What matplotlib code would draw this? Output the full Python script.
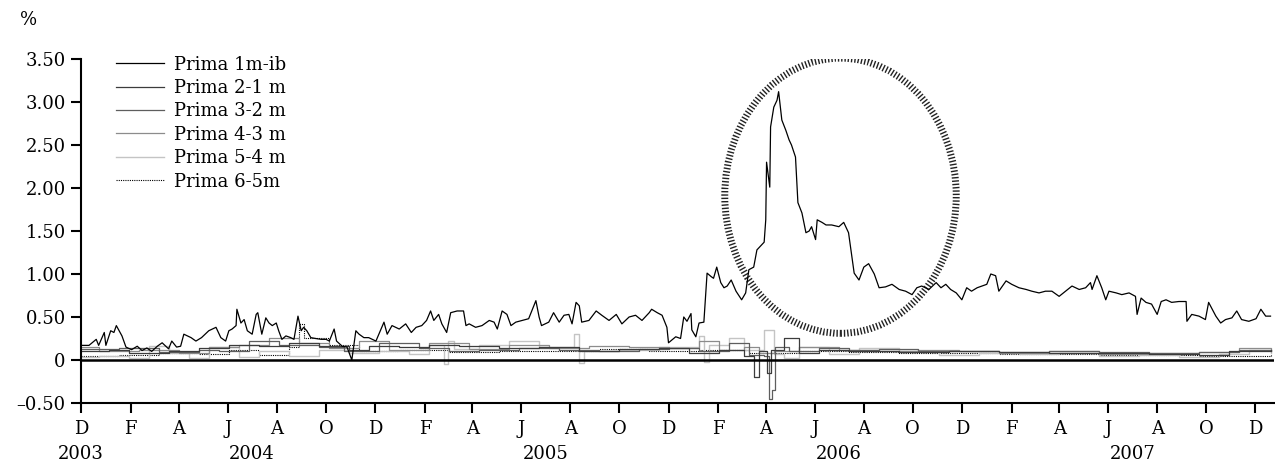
import matplotlib
matplotlib.use("Agg")
import matplotlib.pyplot as plt
import matplotlib.dates as mdates
from matplotlib.patches import Ellipse
from matplotlib.lines import Line2D
import pandas as pd

# days counted from 2003-12-01, values in %
start = pd.Timestamp("2003-12-01")

m1_days = [0, 10, 19, 22, 29, 31, 37, 41, 44, 51, 56, 63, 70, 76, 82, 88, 95, 101, 109, 113,
           119, 124, 128, 137, 143, 150, 159, 168, 174, 180, 184, 188, 193, 194, 199, 203, 207,
           213, 218, 220, 225, 230, 234, 238, 243, 246, 250, 255, 261, 265, 270, 274, 277, 281,
           286, 292, 299, 305, 309, 315, 318, 325, 331, 337, 342, 346, 352, 358, 367, 377, 381,
           387, 396, 404, 411, 417, 424, 430, 435, 439, 445, 449, 455, 460, 468, 476, 479, 483,
           491, 499, 508, 514, 518, 524, 530, 535, 541, 549, 557, 566, 570, 573, 582, 588, 595,
           601, 607, 611, 616, 620, 623, 632, 641, 648, 657, 666, 673, 682, 690, 698, 707, 710,
           717, 723, 729, 731, 740, 746, 750, 754, 759, 760, 765, 769, 775, 779, 784, 787, 791,
           796, 800, 804, 809, 815, 822, 827, 831, 837, 841, 850, 852, 853, 857, 858, 862, 866,
           868, 872, 877, 881, 884, 889, 892, 897, 902, 906, 909, 914, 916, 922, 927, 934, 943,
           949, 955, 962, 968, 974, 980, 987, 993, 1001, 1009, 1018, 1026, 1034, 1040, 1046,
           1055, 1064, 1070, 1076, 1082, 1089, 1096, 1102, 1108, 1115, 1121, 1127, 1132, 1138,
           1142, 1151, 1158, 1167, 1176, 1183, 1192, 1200, 1208, 1217, 1225, 1233, 1242, 1250,
           1256, 1258, 1264, 1270, 1275, 1279, 1288, 1295, 1304, 1312, 1314, 1319, 1325, 1332,
           1339, 1344, 1350, 1357, 1366, 1375, 1376, 1382, 1391, 1399, 1403, 1407, 1412, 1418,
           1424, 1432, 1438, 1444, 1453, 1462, 1468, 1474, 1480]
m1_vals = [0.17, 0.17, 0.24, 0.17, 0.32, 0.17, 0.34, 0.32, 0.40, 0.28, 0.15, 0.12, 0.16, 0.11,
           0.14, 0.10, 0.16, 0.20, 0.13, 0.22, 0.15, 0.16, 0.30, 0.26, 0.22, 0.26, 0.34, 0.38,
           0.26, 0.22, 0.34, 0.36, 0.40, 0.59, 0.43, 0.47, 0.34, 0.30, 0.53, 0.55, 0.30, 0.49,
           0.43, 0.40, 0.43, 0.34, 0.24, 0.28, 0.26, 0.24, 0.51, 0.34, 0.38, 0.34, 0.26, 0.25,
           0.24, 0.24, 0.22, 0.36, 0.22, 0.16, 0.15, 0.00, 0.34, 0.30, 0.26, 0.26, 0.22, 0.44,
           0.30, 0.40, 0.36, 0.42, 0.32, 0.38, 0.40, 0.46, 0.57, 0.46, 0.53, 0.42, 0.32, 0.55,
           0.57, 0.57, 0.40, 0.42, 0.38, 0.40, 0.46, 0.44, 0.36, 0.57, 0.53, 0.40, 0.44, 0.46,
           0.48, 0.69, 0.50, 0.40, 0.44, 0.55, 0.44, 0.52, 0.53, 0.42, 0.67, 0.63, 0.44, 0.46,
           0.57, 0.52, 0.46, 0.53, 0.42, 0.50, 0.52, 0.46, 0.55, 0.59, 0.55, 0.52, 0.38, 0.20,
           0.27, 0.25, 0.50, 0.45, 0.54, 0.35, 0.27, 0.43, 0.44, 1.01, 0.97, 0.95, 1.08, 0.90,
           0.84, 0.86, 0.93, 0.80, 0.70, 0.78, 1.05, 1.08, 1.28, 1.37, 1.63, 2.30, 2.01, 2.71,
           2.94, 3.02, 3.12, 2.79, 2.67, 2.56, 2.50, 2.36, 1.83, 1.71, 1.48, 1.50, 1.55, 1.40,
           1.63, 1.60, 1.57, 1.57, 1.55, 1.60, 1.48, 1.01, 0.93, 1.08, 1.12, 1.00, 0.84, 0.85,
           0.88, 0.82, 0.80, 0.76, 0.84, 0.86, 0.82, 0.90, 0.84, 0.88, 0.82, 0.78, 0.70, 0.84,
           0.80, 0.84, 0.86, 0.88, 1.00, 0.98, 0.80, 0.92, 0.88, 0.84, 0.82, 0.80, 0.78, 0.80,
           0.80, 0.74, 0.80, 0.86, 0.82, 0.84, 0.90, 0.82, 0.98, 0.84, 0.70, 0.80, 0.78, 0.76,
           0.78, 0.74, 0.53, 0.72, 0.67, 0.65, 0.53, 0.68, 0.70, 0.67, 0.68, 0.68, 0.45, 0.53,
           0.51, 0.47, 0.67, 0.60, 0.51, 0.43, 0.47, 0.49, 0.57, 0.47, 0.45, 0.48, 0.59, 0.51,
           0.51]

m2_days = [0, 35, 60, 109, 147, 184, 221, 259, 296, 333, 358, 396, 433, 470, 520, 570, 620,
           669, 719, 756, 794, 825, 837, 843, 853, 858, 875, 893, 918, 955, 1018, 1080, 1142,
           1204, 1266, 1329, 1391, 1428, 1480]
m2_vals = [0.10, 0.12, 0.08, 0.10, 0.14, 0.18, 0.16, 0.20, 0.16, 0.12, 0.16, 0.15, 0.17, 0.16,
           0.14, 0.15, 0.10, 0.13, 0.14, 0.08, 0.12, 0.05, -0.20, 0.10, -0.15, 0.12, 0.25, 0.08,
           0.12, 0.10, 0.09, 0.10, 0.09, 0.08, 0.08, 0.07, 0.06, 0.10, 0.12]

m3_days = [0, 47, 97, 147, 172, 209, 246, 296, 327, 371, 420, 458, 495, 545, 595, 644, 694,
           731, 769, 806, 831, 850, 856, 860, 863, 881, 918, 955, 993, 1042, 1092, 1142, 1204,
           1266, 1329, 1391, 1441, 1480]
m3_vals = [0.13, 0.14, 0.09, 0.12, 0.10, 0.22, 0.17, 0.15, 0.11, 0.20, 0.14, 0.10, 0.12, 0.14,
           0.12, 0.10, 0.13, 0.14, 0.10, 0.20, 0.06, 0.05, -0.45, -0.35, 0.15, 0.10, 0.14, 0.12,
           0.13, 0.11, 0.10, 0.09, 0.10, 0.09, 0.08, 0.09, 0.12, 0.11]

m4_days = [0, 22, 72, 122, 159, 197, 234, 271, 309, 346, 383, 433, 483, 532, 582, 632, 682,
           731, 769, 794, 825, 843, 862, 893, 943, 993, 1042, 1092, 1142, 1204, 1266, 1329,
           1391, 1441, 1480]
m4_vals = [0.15, 0.10, 0.12, 0.08, 0.15, 0.18, 0.25, 0.20, 0.14, 0.22, 0.12, 0.20, 0.13, 0.18,
           0.14, 0.16, 0.15, 0.14, 0.22, 0.12, 0.15, 0.08, 0.10, 0.15, 0.12, 0.10, 0.12, 0.11,
           0.08, 0.10, 0.07, 0.08, 0.09, 0.14, 0.10]

m5_days = [0, 22, 60, 85, 109, 134, 159, 197, 221, 259, 296, 333, 371, 408, 433, 452, 457,
           464, 495, 532, 570, 613, 620, 626, 669, 719, 769, 775, 781, 806, 825, 850, 858, 862,
           875, 893, 931, 968, 1018, 1067, 1117, 1167, 1217, 1266, 1316, 1366, 1416, 1453, 1480]
m5_vals = [0.03, 0.05, 0.02, 0.16, 0.08, 0.02, 0.15, 0.03, 0.10, 0.05, 0.12, 0.08, 0.10, 0.07,
           0.18, -0.05, 0.22, 0.13, 0.17, 0.22, 0.15, 0.30, -0.04, 0.10, 0.12, 0.15, 0.28, -0.02,
           0.18, 0.25, 0.12, 0.35, 0.35, 0.07, 0.02, 0.15, 0.07, 0.14, 0.10, 0.06, 0.08, 0.07,
           0.08, 0.05, 0.06, 0.04, 0.07, 0.12, 0.08]

m6_days = [0, 47, 97, 147, 184, 221, 259, 271, 277, 309, 346, 396, 458, 520, 582, 644, 707,
           769, 831, 893, 955, 1018, 1142, 1266, 1391, 1480]
m6_vals = [0.05, 0.06, 0.08, 0.07, 0.12, 0.06, 0.15, 0.42, 0.25, 0.17, 0.10, 0.12, 0.09, 0.11,
           0.10, 0.13, 0.10, 0.12, 0.08, 0.10, 0.09, 0.08, 0.07, 0.06, 0.05, 0.07]

labels = ["Prima 1m-ib", "Prima 2-1 m", "Prima 3-2 m", "Prima 4-3 m", "Prima 5-4 m", "Prima 6-5m"]
year_labels = ["2003", "2004", "2005", "2006", "2007"]
year_pos = ["2003-12-01", "2004-07-01", "2005-07-01", "2006-07-01", "2007-07-01"]


def to_dates(days):
    return start + pd.to_timedelta(days, unit="D")


plt.rcParams["font.family"] = "DejaVu Serif"
plt.rcParams["font.size"] = 13

fig = plt.figure(figsize=(12.75, 4.63), dpi=100)
ax = fig.add_axes([0.0635, 0.1296, 0.9355, 0.743])

series = [
    (m1_days, m1_vals, dict(color="black", lw=0.9)),
    (m2_days, m2_vals, dict(color="#3c3c3c", lw=0.9, drawstyle="steps-post")),
    (m3_days, m3_vals, dict(color="#5e5e5e", lw=0.9, drawstyle="steps-post")),
    (m4_days, m4_vals, dict(color="#8c8c8c", lw=0.9, drawstyle="steps-post")),
    (m5_days, m5_vals, dict(color="#c4c4c4", lw=1.0, drawstyle="steps-post")),
    (m6_days, m6_vals, dict(color="black", lw=0.8, ls=(0, (1, 1)), drawstyle="steps-post")),
]
# light ones first so the main series ends up on top
for d, v, st in series[::-1]:
    ax.plot(to_dates(d), v, **st)

ax.axhline(0, color="black", lw=1.8)

# circle around the 2006 spike
cx = mdates.date2num(pd.Timestamp("2006-07-03"))
ax.add_patch(Ellipse((cx, 1.91), width=288, height=3.2, fill=False,
                     edgecolor="#222222", lw=5, ls=(0, (0.2, 0.28))))

ax.set_xlim(start, start + pd.Timedelta(days=1484))
ax.set_ylim(-0.5, 3.5)

yt = [3.5, 3.0, 2.5, 2.0, 1.5, 1.0, 0.5, 0, -0.5]
ax.set_yticks(yt)
ax.set_yticklabels(["0" if t == 0 else f"{t:.2f}".replace("-", "\u2013") for t in yt])

ax.xaxis.set_major_locator(mdates.MonthLocator(bymonth=[12, 2, 4, 6, 8, 10]))
ax.xaxis.set_major_formatter(mdates.DateFormatter("%b"))
fig.canvas.draw()
ax.set_xticks(ax.get_xticks())
ax.set_xticklabels([t.get_text()[0] for t in ax.get_xticklabels()])

ax.tick_params(axis="both", direction="out", length=7, width=1.5, color="black")
ax.tick_params(axis="y", pad=4)
ax.tick_params(axis="x", pad=5)

for s in ["top", "right"]:
    ax.spines[s].set_visible(False)
for s in ["left", "bottom"]:
    ax.spines[s].set_linewidth(1.5)

for lab, pos in zip(year_labels, year_pos):
    ax.text(pd.Timestamp(pos), -0.148, lab, transform=ax.get_xaxis_transform(),
            ha="center", va="center")

fig.text(0.016, 0.945, "%", fontsize=13)

handles = [Line2D([], [], **{k: val for k, val in st.items() if k != "drawstyle"})
           for _, _, st in series]
ax.legend(handles, labels, loc="upper left", bbox_to_anchor=(0.029, 1.01), frameon=False,
          borderpad=0, borderaxespad=0, handlelength=2.7, handletextpad=0.55,
          labelspacing=0.3)

fig.savefig("out.png", dpi=100)
